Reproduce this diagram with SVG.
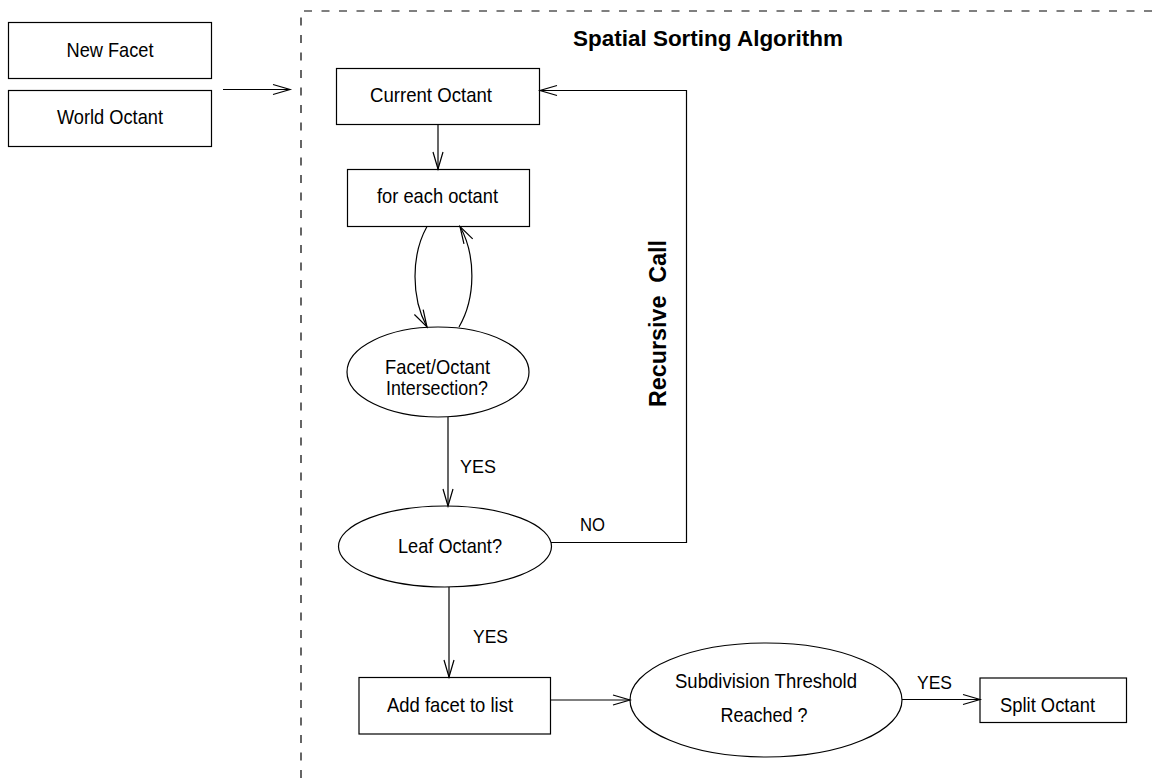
<svg xmlns="http://www.w3.org/2000/svg" width="1155" height="778" viewBox="0 0 1155 778">
<style>
.box{fill:#fff;stroke:#000;stroke-width:1.2}
.t{font-family:"Liberation Sans",Arial,sans-serif;font-size:21px;fill:#000;text-anchor:middle}
.s{font-family:"Liberation Sans",Arial,sans-serif;font-size:18px;fill:#000;text-anchor:middle}
.b{font-family:"Liberation Sans",Arial,sans-serif;font-weight:bold;fill:#000;text-anchor:middle}
.c{fill:none;stroke:#000;stroke-width:1.2}
</style>
<defs>
<marker id="arr" markerUnits="userSpaceOnUse" markerWidth="20" markerHeight="12" refX="17" refY="5" orient="auto" overflow="visible">
<path d="M0,0 L17,5 L0,10" fill="none" stroke="#000" stroke-width="1.2"/>
</marker>
</defs>
<rect width="1155" height="778" fill="#fff"/>
<g id="boundary">
<path d="M301,778 V11 H1155" fill="none" stroke="#000" stroke-width="1.2" stroke-dasharray="8,9.5"/>
<text class="b" x="708" y="46" font-size="22" textLength="270" lengthAdjust="spacingAndGlyphs">Spatial Sorting Algorithm</text>
</g>
<g id="new-facet">
<rect class="box" x="8.5" y="22.5" width="203" height="56"/>
<text class="t" x="110" y="57" textLength="87" lengthAdjust="spacingAndGlyphs">New Facet</text>
</g>
<g id="world-octant">
<rect class="box" x="8.5" y="90.5" width="203" height="56"/>
<text class="t" x="110" y="124" textLength="106" lengthAdjust="spacingAndGlyphs">World Octant</text>
</g>
<g id="current-octant">
<rect class="box" x="336.5" y="68.5" width="203" height="56"/>
<text class="t" x="431" y="102" textLength="122" lengthAdjust="spacingAndGlyphs">Current Octant</text>
</g>
<g id="for-each-octant">
<rect class="box" x="347.5" y="169.5" width="182" height="57"/>
<text class="t" x="437.5" y="203" textLength="121" lengthAdjust="spacingAndGlyphs">for each octant</text>
</g>
<g id="intersection">
<ellipse class="box" cx="438" cy="372" rx="91" ry="45"/>
<text class="t" x="437.5" y="374" textLength="105" lengthAdjust="spacingAndGlyphs">Facet/Octant</text>
<text class="t" x="437" y="395" textLength="102" lengthAdjust="spacingAndGlyphs">Intersection?</text>
</g>
<g id="leaf-octant">
<ellipse class="box" cx="445" cy="546.5" rx="106.5" ry="40.5"/>
<text class="t" x="450" y="553" textLength="104" lengthAdjust="spacingAndGlyphs">Leaf Octant?</text>
</g>
<g id="add-facet">
<rect class="box" x="359" y="677.5" width="191.5" height="56.5"/>
<text class="t" x="450" y="712" textLength="126" lengthAdjust="spacingAndGlyphs">Add facet to list</text>
</g>
<g id="subdivision">
<ellipse class="box" cx="766" cy="700" rx="136" ry="57"/>
<text class="t" x="766" y="688" textLength="182" lengthAdjust="spacingAndGlyphs">Subdivision Threshold</text>
<text class="t" x="764" y="722" textLength="87" lengthAdjust="spacingAndGlyphs">Reached ?</text>
</g>
<g id="split-octant">
<rect class="box" x="980" y="678" width="146.5" height="44.5"/>
<text class="t" x="1047.5" y="712" textLength="95" lengthAdjust="spacingAndGlyphs">Split Octant</text>
</g>
<g id="connectors">
<path class="c" d="M223,89.5 H290" marker-end="url(#arr)"/>
<path class="c" d="M438,124.5 V169" marker-end="url(#arr)"/>
<path class="c" d="M427,226.5 C411,255 411,298 427,327" marker-end="url(#arr)"/>
<path class="c" d="M459,327 C476,298 476,255 460,226.5" marker-end="url(#arr)"/>
<path class="c" d="M448,417 V506" marker-end="url(#arr)"/>
<path class="c" d="M551,542.5 H686.5 V90.5 H540" marker-end="url(#arr)"/>
<path class="c" d="M449,587 V677" marker-end="url(#arr)"/>
<path class="c" d="M551,700 H630" marker-end="url(#arr)"/>
<path class="c" d="M902,699.5 H980" marker-end="url(#arr)"/>
<text class="s" x="478" y="473" textLength="36" lengthAdjust="spacingAndGlyphs">YES</text>
<text class="s" x="490.5" y="643" textLength="35" lengthAdjust="spacingAndGlyphs">YES</text>
<text class="s" x="934.5" y="689" textLength="35" lengthAdjust="spacingAndGlyphs">YES</text>
<text class="s" x="592.5" y="531" font-size="18" textLength="25" lengthAdjust="spacingAndGlyphs">NO</text>
<text class="b" font-size="23" transform="translate(666,323.5) rotate(-90)" x="0" y="0" textLength="167" lengthAdjust="spacingAndGlyphs" xml:space="preserve">Recursive  Call</text>
</g>
</svg>
